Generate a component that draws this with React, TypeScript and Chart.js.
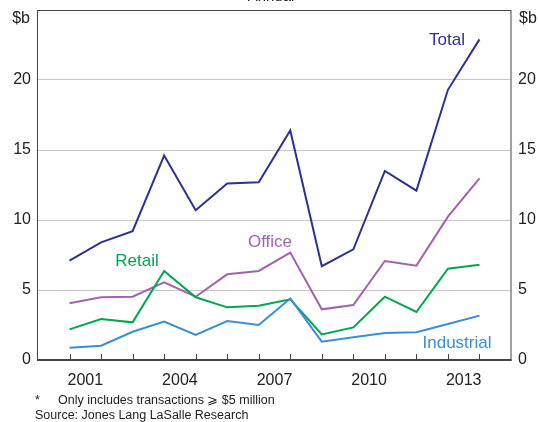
import React, { useEffect, useRef } from "react";
import { Chart, registerables } from "chart.js";

Chart.register(...registerables);

// Data (annual, $b)
const years = [2000, 2001, 2002, 2003, 2004, 2005, 2006, 2007, 2008, 2009, 2010, 2011, 2012, 2013];
const total = [7.1, 8.4, 9.2, 14.6, 10.7, 12.6, 12.7, 16.4, 6.7, 7.9, 13.5, 12.1, 19.3, 22.9];
const office = [4.05, 4.48, 4.52, 5.55, 4.52, 6.12, 6.36, 7.67, 3.62, 3.93, 7.07, 6.74, 10.24, 12.98];
const retail = [2.19, 2.93, 2.69, 6.36, 4.48, 3.76, 3.88, 4.33, 1.83, 2.33, 4.52, 3.43, 6.52, 6.81];
const industrial = [0.88, 1.02, 2.02, 2.74, 1.79, 2.78, 2.5, 4.4, 1.31, 1.62, 1.92, 1.98, 2.57, 3.17];
const yearLabels = [2001, 2004, 2007, 2010, 2013];
const yTicks = [0, 5, 10, 15, 20, 25];

const FONT = "'Liberation Sans', Arial, sans-serif";
const TEXT = "#222222";
const C_TOTAL = "#2E3192";
const C_OFFICE = "#A262AE";
const C_RETAIL = "#00A651";
const C_INDUSTRIAL = "#3B8ED4";

const decor = {
  id: "decor",
  afterDraw(chart: any) {
    const { ctx, chartArea, scales } = chart;
    const { left, top, right, bottom } = chartArea;
    const x = scales.x;
    ctx.save();
    // frame
    ctx.strokeStyle = "#444444";
    ctx.lineWidth = 1;
    ctx.strokeRect(left - 0.5, top + 0.5, right - left + 0.5, bottom - top);
    ctx.lineWidth = 2;
    ctx.beginPath();
    ctx.moveTo(left - 1, bottom);
    ctx.lineTo(right + 0.5, bottom);
    ctx.stroke();
    // inward tick marks
    ctx.lineWidth = 1;
    years.forEach((yr) => {
      const px = Math.round(x.getPixelForValue(yr)) + 0.5;
      ctx.beginPath();
      ctx.moveTo(px, bottom);
      ctx.lineTo(px, bottom - 6);
      ctx.stroke();
    });
    // unit labels
    ctx.fillStyle = TEXT;
    ctx.font = `16px ${FONT}`;
    ctx.textBaseline = "middle";
    ctx.textAlign = "right";
    ctx.fillText("$b", left - 8, top + 9);
    ctx.textAlign = "left";
    ctx.fillText("$b", right + 8, top + 9);
    // title (cropped)
    ctx.textAlign = "center";
    ctx.textBaseline = "alphabetic";
    ctx.font = `15px ${FONT}`;
    ctx.fillText("Annual", 271, 1);
    // series labels
    ctx.font = `17px ${FONT}`;
    ctx.textBaseline = "middle";
    ctx.fillStyle = C_TOTAL;
    ctx.fillText("Total", 447, 40);
    ctx.fillStyle = C_OFFICE;
    ctx.fillText("Office", 270, 242);
    ctx.fillStyle = C_RETAIL;
    ctx.fillText("Retail", 137, 261);
    ctx.fillStyle = C_INDUSTRIAL;
    ctx.fillText("Industrial", 457, 343);
    // footnotes
    ctx.fillStyle = TEXT;
    ctx.font = `12.5px ${FONT}`;
    ctx.textAlign = "left";
    ctx.fillText("*", 35, 401);
    ctx.fillText("Only includes transactions \u2A7E $5 million", 58, 401);
    ctx.fillText("Source: Jones Lang LaSalle Research", 35, 416);
    ctx.restore();
  },
};

export default function App() {
  const ref = useRef<HTMLCanvasElement>(null);

  useEffect(() => {
    if (!ref.current) return;
    const mk = (arr: number[]) => years.map((yr, i) => ({ x: yr, y: arr[i] }));
    const ds = (label: string, arr: number[], color: string) => ({
      label,
      data: mk(arr),
      borderColor: color,
      backgroundColor: color,
      borderWidth: 2,
      pointRadius: 0,
      tension: 0,
      fill: false,
    });
    const tickFont = { family: FONT, size: 16 };
    const yAxis = (pos: "left" | "right", width: number, grid: boolean) => ({
      type: "linear" as const,
      position: pos,
      min: 0,
      max: 25,
      afterBuildTicks: (s: any) => {
        s.ticks = yTicks.map((v) => ({ value: v }));
      },
      ticks: {
        callback: (v: any) => (v === 25 ? "" : String(v)),
        font: tickFont,
        color: TEXT,
        padding: 7,
      },
      grid: grid
        ? {
            drawTicks: false,
            lineWidth: 1,
            color: (c: any) =>
              c.tick && (c.tick.value === 0 || c.tick.value === 25) ? "rgba(0,0,0,0)" : "#c8c8c8",
          }
        : { display: false, drawTicks: false },
      border: { display: false },
      afterFit: (s: any) => {
        s.width = width;
        s.paddingTop = 0;
        s.paddingBottom = 0;
      },
    });
    const chart = new Chart(ref.current, {
      type: "line",
      data: {
        datasets: [
          ds("Industrial", industrial, C_INDUSTRIAL),
          ds("Retail", retail, C_RETAIL),
          ds("Office", office, C_OFFICE),
          ds("Total", total, C_TOTAL),
        ],
      },
      options: {
        animation: false,
        responsive: false,
        devicePixelRatio: 1,
        layout: { padding: { top: 10, left: 0, right: 0, bottom: 0 } },
        plugins: { legend: { display: false }, tooltip: { enabled: false } },
        scales: {
          x: {
            type: "linear",
            min: 1999,
            max: 2014,
            grid: { display: false, drawTicks: false },
            border: { display: false },
            afterBuildTicks: (s: any) => {
              s.ticks = yearLabels.map((v) => ({ value: v - 0.5 }));
            },
            ticks: {
              callback: (v: any) => String(Math.round(v + 0.5)),
              font: tickFont,
              color: TEXT,
              padding: 11,
              maxRotation: 0,
              autoSkip: false,
            },
            afterFit: (s: any) => {
              s.height = 62;
              s.paddingLeft = 0;
              s.paddingRight = 0;
            },
          },
          y: yAxis("left", 38, true),
          y2: yAxis("right", 28, false),
        },
      } as any,
      plugins: [decor],
    });
    return () => chart.destroy();
  }, []);

  return (
    <div style={{ position: "absolute", left: 0, top: 0, width: 539, height: 422, background: "#fff" }}>
      <canvas ref={ref} width={539} height={422} style={{ display: "block" }} />
    </div>
  );
}
